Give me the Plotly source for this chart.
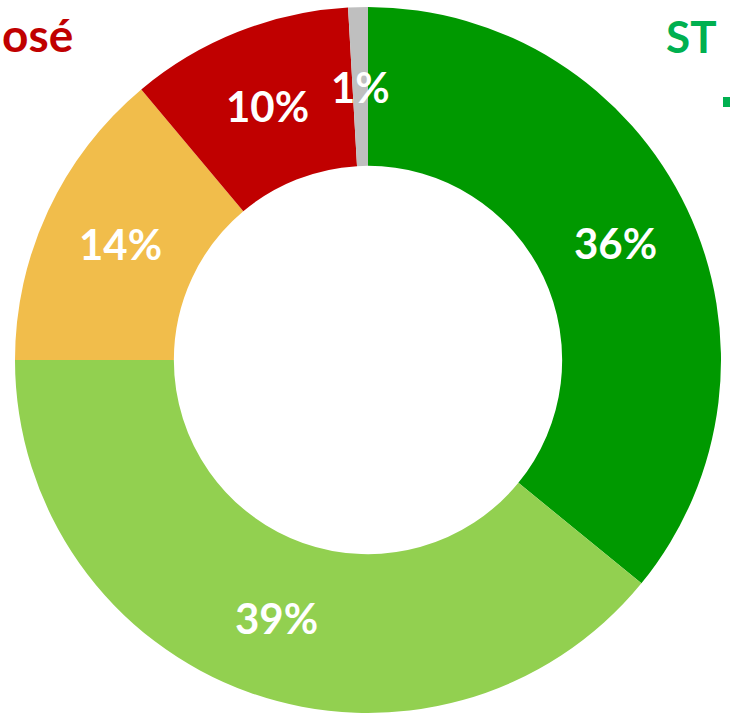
import math
import plotly.graph_objects as go

categories = ["Vert foncé", "Vert clair", "Jaune", "Rouge", "Gris"]
values = [35.9, 39.1, 13.9, 10.2, 0.9]
colors = ["#009900", "#92D050", "#F1BD4B", "#C00000", "#BFBFBF"]
pct_labels = ["36%", "39%", "14%", "10%", "1%"]

W, H = 730, 714
cx, cy, R, hole = 368, 360, 353, 0.55

fig = go.Figure(go.Pie(
    labels=categories, values=values, sort=False, direction="clockwise",
    rotation=0, hole=hole, marker=dict(colors=colors, line=dict(width=0)),
    textinfo="none", hoverinfo="label+percent", showlegend=False,
    domain=dict(x=[(cx - R) / W, (cx + R) / W], y=[1 - (cy + R) / H, 1 - (cy - R) / H]),
))

total = sum(values)
cum = 0.0
rmid = R * (1 + hole) / 2
annotations = []
for v, t in zip(values, pct_labels):
    mid = (cum + v / 2) / total * 2 * math.pi
    cum += v
    px = cx + rmid * math.sin(mid)
    py = cy - rmid * math.cos(mid)
    annotations.append(dict(x=px / W, y=1 - py / H, xref="paper", yref="paper",
                            text=t, showarrow=False, xanchor="center", yanchor="middle",
                            font=dict(family="Lato", size=42, color="white", weight="bold")))

annotations.append(dict(x=0, y=1 - 34 / H, xref="paper", yref="paper", text="osé",
                        showarrow=False, xanchor="left", yanchor="middle",
                        font=dict(family="Lato", size=46, color="#C00000", weight="bold")))
annotations.append(dict(x=691 / W, y=1 - 36 / H, xref="paper", yref="paper", text="ST",
                        showarrow=False, xanchor="center", yanchor="middle",
                        font=dict(family="Lato", size=44, color="#00B050", weight="bold")))

fig.update_layout(
    width=W, height=H, margin=dict(l=0, r=0, t=0, b=0),
    paper_bgcolor="white", plot_bgcolor="white",
    annotations=annotations,
    shapes=[dict(type="rect", xref="paper", yref="paper",
                 x0=723 / W, x1=1.0, y0=1 - 107 / H, y1=1 - 97 / H,
                 fillcolor="#00B050", line=dict(width=0))],
)
fig.write_html("out.html")
